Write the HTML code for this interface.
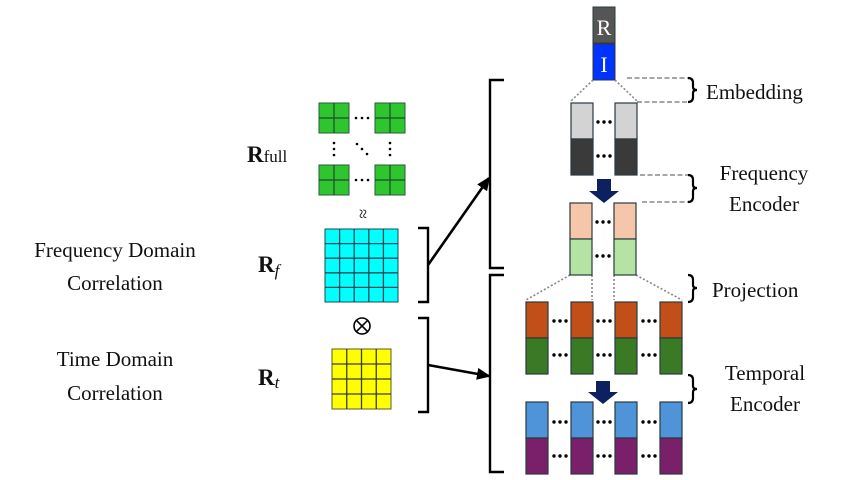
<!DOCTYPE html>
<html><head><meta charset="utf-8"><style>
html,body{margin:0;padding:0;background:#fff}
svg{display:block}
text{font-family:"Liberation Serif",serif;fill:#111}
</style></head><body>
<svg width="847" height="480" viewBox="0 0 847 480" xmlns="http://www.w3.org/2000/svg">
<defs>
<marker id="ah" markerWidth="14" markerHeight="12" refX="12" refY="6" orient="auto" markerUnits="userSpaceOnUse" viewBox="0 0 14 12"><path d="M0,0 L14,6 L0,12 z" fill="#000"/></marker>
<g id="gb"><rect x="0" y="0" width="30" height="30" fill="#2ec52e" stroke="#2a5a3a" stroke-width="1"/><line x1="15" y1="0" x2="15" y2="30" stroke="#1f4a30" stroke-width="1.2"/><line x1="0" y1="15" x2="30" y2="15" stroke="#1f4a30" stroke-width="1.2"/></g>
<g id="d3"><circle cx="-6" cy="0" r="1.7" fill="#000"/><circle cx="0" cy="0" r="1.7" fill="#000"/><circle cx="6" cy="0" r="1.7" fill="#000"/></g>
</defs>

<text x="115" y="257" font-size="21" text-anchor="middle">Frequency Domain</text>
<text x="115" y="290" font-size="21" text-anchor="middle">Correlation</text>
<text x="115" y="366" font-size="21" text-anchor="middle">Time Domain</text>
<text x="115" y="400" font-size="21" text-anchor="middle">Correlation</text>

<text x="247" y="162" font-size="23" font-weight="bold">R<tspan font-weight="normal" font-size="17">full</tspan></text>
<text x="258" y="272" font-size="23" font-weight="bold">R<tspan font-weight="normal" font-style="italic" font-size="17" dy="4">f</tspan></text>
<text x="258" y="385" font-size="23" font-weight="bold">R<tspan font-weight="normal" font-style="italic" font-size="17" dy="3">t</tspan></text>

<use href="#gb" x="319" y="103"/><use href="#gb" x="375" y="103"/>
<use href="#gb" x="319" y="165"/><use href="#gb" x="375" y="165"/>
<g fill="#000">
<circle cx="356" cy="118" r="1.3"/><circle cx="362" cy="118" r="1.3"/><circle cx="368" cy="118" r="1.3"/>
<circle cx="356" cy="180" r="1.3"/><circle cx="362" cy="180" r="1.3"/><circle cx="368" cy="180" r="1.3"/>
<circle cx="334" cy="143" r="1.3"/><circle cx="334" cy="149" r="1.3"/><circle cx="334" cy="155" r="1.3"/>
<circle cx="390" cy="143" r="1.3"/><circle cx="390" cy="149" r="1.3"/><circle cx="390" cy="155" r="1.3"/>
<circle cx="357" cy="144" r="1.3"/><circle cx="362" cy="149" r="1.3"/><circle cx="367" cy="154" r="1.3"/>
</g>
<text x="362" y="219" font-size="18" text-anchor="middle" transform="rotate(90 362 214)">≈</text>

<rect x="325" y="229" width="73" height="73" fill="#00ffff" stroke="#1d4a55" stroke-width="1"/>
<g stroke="#1d4a55" stroke-width="1.3">
<line x1="339.6" y1="229" x2="339.6" y2="302"/><line x1="354.2" y1="229" x2="354.2" y2="302"/><line x1="368.8" y1="229" x2="368.8" y2="302"/><line x1="383.4" y1="229" x2="383.4" y2="302"/>
<line x1="325" y1="243.6" x2="398" y2="243.6"/><line x1="325" y1="258.2" x2="398" y2="258.2"/><line x1="325" y1="272.8" x2="398" y2="272.8"/><line x1="325" y1="287.4" x2="398" y2="287.4"/>
</g>
<circle cx="362" cy="326" r="8" fill="none" stroke="#000" stroke-width="1.6"/>
<line x1="356.3" y1="320.3" x2="367.7" y2="331.7" stroke="#000" stroke-width="1.6"/>
<line x1="367.7" y1="320.3" x2="356.3" y2="331.7" stroke="#000" stroke-width="1.6"/>
<rect x="332" y="349" width="59" height="60" fill="#ffff00" stroke="#5a5a30" stroke-width="1"/>
<g stroke="#3a3a2a" stroke-width="1.3">
<line x1="346.75" y1="349" x2="346.75" y2="409"/><line x1="361.5" y1="349" x2="361.5" y2="409"/><line x1="376.25" y1="349" x2="376.25" y2="409"/>
<line x1="332" y1="364" x2="391" y2="364"/><line x1="332" y1="379" x2="391" y2="379"/><line x1="332" y1="394" x2="391" y2="394"/>
</g>

<g fill="none" stroke="#000" stroke-width="2.4">
<path d="M418,228 H428 V302 H418"/>
<path d="M418,318 H428 V412 H418"/>
<path d="M504,80 H490 V268 H504"/>
<path d="M504,275 H490 V472 H504"/>
</g>
<line x1="428" y1="265" x2="489" y2="178" stroke="#000" stroke-width="2.6" marker-end="url(#ah)"/>
<line x1="428" y1="365" x2="489" y2="376" stroke="#000" stroke-width="2.6" marker-end="url(#ah)"/>

<rect x="593" y="7" width="22" height="36" fill="#555" stroke="#2a3a40"/>
<rect x="593" y="44" width="22" height="36" fill="#0033ff" stroke="#2a3a40"/>
<text x="604" y="35" font-size="22" text-anchor="middle" style="fill:#fff">R</text>
<text x="604" y="72" font-size="22" text-anchor="middle" style="fill:#fff">I</text>

<g stroke="#888" stroke-width="1.6" stroke-dasharray="2,2" fill="none">
<line x1="593" y1="80" x2="571" y2="101"/><line x1="615" y1="80" x2="637" y2="101"/>
<line x1="570" y1="275" x2="526" y2="300"/><line x1="592" y1="275" x2="592" y2="300"/>
<line x1="614" y1="275" x2="614" y2="300"/><line x1="636" y1="275" x2="682" y2="300"/>
</g>
<g stroke="#888" stroke-width="1.6" stroke-dasharray="5,2.5" fill="none">
<line x1="627" y1="78" x2="688" y2="78"/><line x1="637" y1="102" x2="688" y2="102"/>
<line x1="640" y1="175" x2="688" y2="175"/><line x1="642" y1="202" x2="688" y2="202"/>
</g>
<g fill="none" stroke="#000" stroke-width="2.2">
<path d="M688,78 Q693,78 693,83 V87 Q693,90 697,90 Q693,90 693,93 V97 Q693,102 688,102"/>
<path d="M688,175 Q693,175 693,180 V185 Q693,188 697,188 Q693,188 693,191 V197 Q693,202 688,202"/>
<path d="M688,275 Q693,275 693,280 V285 Q693,288 697,288 Q693,288 693,291 V297 Q693,302 688,302"/>
<path d="M688,375 Q693,375 693,380 V386 Q693,389 697,389 Q693,389 693,392 V398 Q693,403 688,403"/>
</g>

<g stroke="#2a3a40" stroke-width="1.2">
<rect x="571" y="103" width="22" height="36" fill="#d3d3d3"/><rect x="571" y="139" width="22" height="36" fill="#3a3a3a"/>
<rect x="615" y="103" width="22" height="36" fill="#d3d3d3"/><rect x="615" y="139" width="22" height="36" fill="#3a3a3a"/>
<rect x="570" y="203" width="22" height="36" fill="#f5c6aa"/><rect x="570" y="239" width="22" height="36" fill="#b5e3a3"/>
<rect x="614" y="203" width="22" height="36" fill="#f5c6aa"/><rect x="614" y="239" width="22" height="36" fill="#b5e3a3"/>
<rect x="526" y="302" width="22" height="36" fill="#c14f17"/><rect x="526" y="338" width="22" height="36" fill="#3a7a24"/>
<rect x="571" y="302" width="22" height="36" fill="#c14f17"/><rect x="571" y="338" width="22" height="36" fill="#3a7a24"/>
<rect x="615" y="302" width="22" height="36" fill="#c14f17"/><rect x="615" y="338" width="22" height="36" fill="#3a7a24"/>
<rect x="660" y="302" width="22" height="36" fill="#c14f17"/><rect x="660" y="338" width="22" height="36" fill="#3a7a24"/>
<rect x="526" y="402" width="22" height="36" fill="#4f94d8"/><rect x="526" y="438" width="22" height="36" fill="#7a1f6a"/>
<rect x="571" y="402" width="22" height="36" fill="#4f94d8"/><rect x="571" y="438" width="22" height="36" fill="#7a1f6a"/>
<rect x="615" y="402" width="22" height="36" fill="#4f94d8"/><rect x="615" y="438" width="22" height="36" fill="#7a1f6a"/>
<rect x="660" y="402" width="22" height="36" fill="#4f94d8"/><rect x="660" y="438" width="22" height="36" fill="#7a1f6a"/>
</g>
<use href="#d3" x="604" y="122"/><use href="#d3" x="604" y="156"/>
<use href="#d3" x="603" y="222"/><use href="#d3" x="603" y="256"/>
<use href="#d3" x="560" y="321"/><use href="#d3" x="560" y="355"/>
<use href="#d3" x="604" y="321"/><use href="#d3" x="604" y="355"/>
<use href="#d3" x="649" y="321"/><use href="#d3" x="649" y="355"/>
<use href="#d3" x="560" y="422"/><use href="#d3" x="560" y="456"/>
<use href="#d3" x="604" y="422"/><use href="#d3" x="604" y="456"/>
<use href="#d3" x="649" y="422"/><use href="#d3" x="649" y="456"/>

<path d="M597,179 H611 V191 H619 L604,203 L589,191 H597 Z" fill="#0d2060"/>
<path d="M596,381 H610 V392 H618 L603,404 L588,392 H596 Z" fill="#0d2060"/>

<text x="706" y="99" font-size="21">Embedding</text>
<text x="764" y="180" font-size="21" text-anchor="middle">Frequency</text>
<text x="764" y="211" font-size="21" text-anchor="middle">Encoder</text>
<text x="712" y="297" font-size="21">Projection</text>
<text x="765" y="380" font-size="21" text-anchor="middle">Temporal</text>
<text x="765" y="411" font-size="21" text-anchor="middle">Encoder</text>
</svg>
</body></html>
